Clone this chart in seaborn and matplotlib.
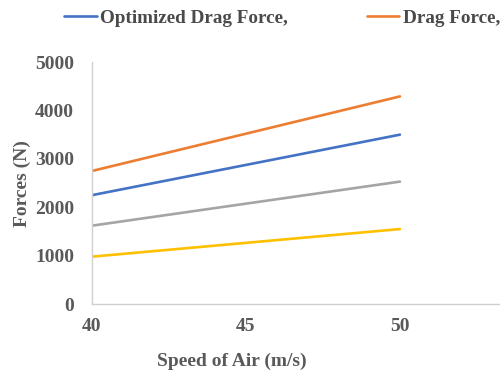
import matplotlib
matplotlib.use("Agg")
import matplotlib.pyplot as plt
import seaborn as sns
import pandas as pd

# Forces versus air speed
speed = [40, 50]
optimized_drag = [2250, 3500]
drag = [2750, 4290]
optimized_lift = [980, 1550]
lift = [1620, 2530]

series_names = ["Optimized Drag Force,", "Drag Force,", "Lift Force", "Optimized Lift Force"]
series_values = [optimized_drag, drag, lift, optimized_lift]
colors = ["#4472C4", "#ED7D31", "#A5A5A5", "#FFC000"]

x_ticks = [40, 45, 50]
y_ticks = [0, 1000, 2000, 3000, 4000, 5000]

rows = []
for name, vals in zip(series_names, series_values):
    for s, v in zip(speed, vals):
        rows.append({"speed": s, "force": v, "series": name})
df = pd.DataFrame(rows)

sns.set_style("white")
plt.rcParams["font.family"] = ["Liberation Serif", "DejaVu Serif"]
plt.rcParams["font.weight"] = "bold"

text_color = "#595959"
legend_color = "#4a4a4a"
axis_color = "#D0D0D0"

fig = plt.figure(figsize=(5.0, 3.83), dpi=100)
ax = fig.add_axes([0.184, 0.206, 0.816, 0.632])

sns.lineplot(data=df, x="speed", y="force", hue="series", hue_order=series_names,
             palette=colors, linewidth=1.9, legend=False, ax=ax)

ax.set_xlim(40, 53.25)
ax.set_ylim(0, 5000)
ax.set_xticks(x_ticks)
ax.set_yticks(y_ticks)
ax.set_xticklabels([str(t) for t in x_ticks])
ax.set_yticklabels([str(t) for t in y_ticks])

for side in ["top", "right"]:
    ax.spines[side].set_visible(False)
for side in ["left", "bottom"]:
    ax.spines[side].set_color(axis_color)
    ax.spines[side].set_linewidth(1.0)

ax.tick_params(axis="x", length=4, width=0.8, color="#E6E6E6", pad=6,
               labelsize=14, labelcolor=text_color)
ax.tick_params(axis="y", length=0, pad=13, labelsize=14, labelcolor=text_color)
for lbl in ax.get_xticklabels() + ax.get_yticklabels():
    lbl.set_fontweight("bold")

ax.set_xlabel("Speed of Air (m/s)", fontsize=14, fontweight="bold", color=text_color)
ax.set_ylabel("Forces (N)", fontsize=14, fontweight="bold", color=text_color)
ax.xaxis.set_label_coords(0.343, -0.200)
ax.yaxis.set_label_coords(-0.150, 0.5)

handles = ax.get_lines()[:2]
leg = fig.legend(handles, series_names[:2], loc="center left",
                 bbox_to_anchor=(0.128, 0.953), ncol=2, frameon=False,
                 prop={"family": "Liberation Serif", "weight": "bold", "size": 13.8},
                 handlelength=1.7, handletextpad=0.2, columnspacing=4.1,
                 borderaxespad=0, borderpad=0)
for t in leg.get_texts():
    t.set_color(legend_color)

fig.savefig("out.png", dpi=100)
